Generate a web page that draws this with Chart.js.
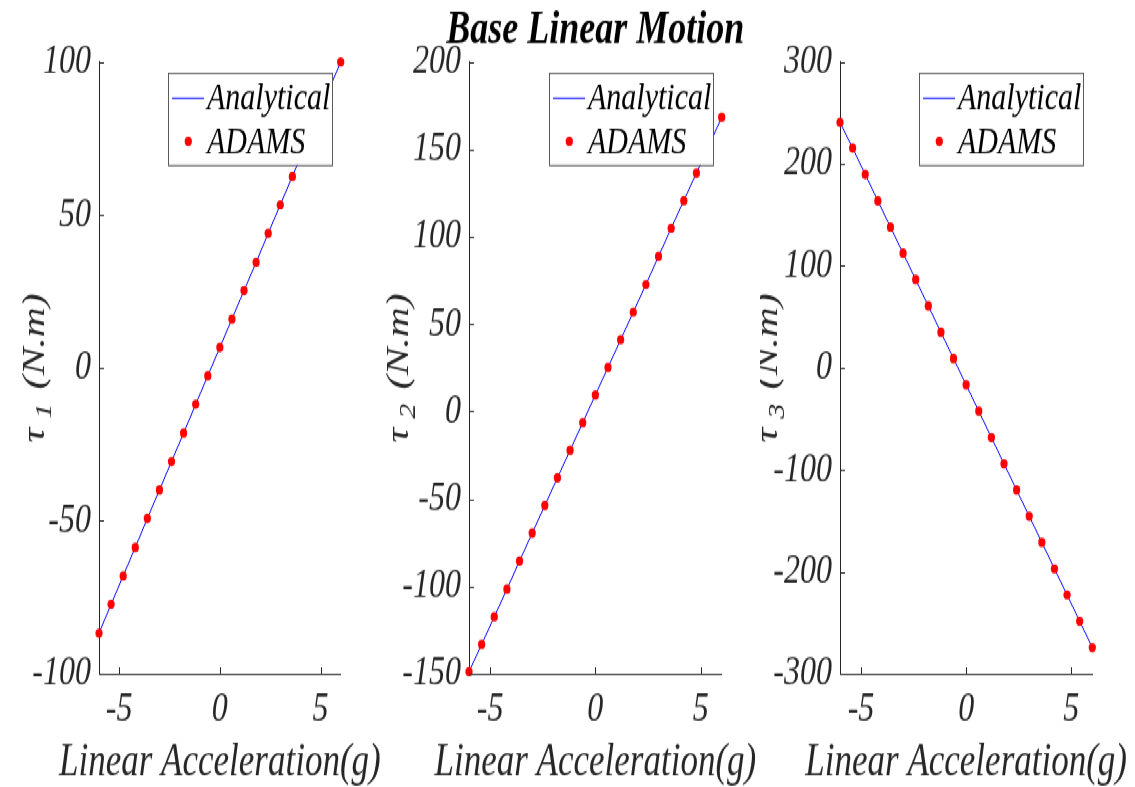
<!DOCTYPE html>
<html>
<head>
<meta charset="utf-8">
<script src="https://cdn.jsdelivr.net/npm/chart.js@4.4.0/dist/chart.umd.min.js"></script>
<style>
  html, body { margin: 0; padding: 0; background: #fff; }
  #page { position: relative; width: 1135px; height: 787px; overflow: hidden; }
  /* the source figure is stretched vertically, so draw flat and stretch */
  #wrap { position: absolute; left: 0; top: 0; width: 1135px; height: 605px; transform: scaleY(1.3008); transform-origin: 0 0; }
  #wrap canvas { position: absolute; top: 0; }
</style>
</head>
<body>
<div id="page">
<div id="wrap">
  <canvas id="tau1Chart" width="380" height="605" style="left:0"></canvas>
  <canvas id="tau2Chart" width="380" height="605" style="left:380px"></canvas>
  <canvas id="tau3Chart" width="375" height="605" style="left:760px"></canvas>
</div>
</div>
<script>
// Data
const accel = [-6, -5.4, -4.8, -4.2, -3.6, -3, -2.4, -1.8, -1.2, -0.6, 0, 0.6, 1.2, 1.8, 2.4, 3, 3.6, 4.2, 4.8, 5.4, 6];
const tau1 = [-86.7, -77.3, -68.0, -58.7, -49.2, -39.9, -30.6, -21.3, -11.9, -2.6, 6.7, 16.0, 25.3, 34.5, 44.0, 53.3, 62.6, 72.0, 81.3, 90.7, 100.0];
const tau2 = [-148.8, -133.2, -117.4, -101.6, -85.5, -69.5, -53.7, -37.9, -22.1, -6.3, 9.5, 25.3, 41.1, 56.9, 72.7, 88.8, 104.9, 120.7, 136.5, 152.3, 168.4];
const tau3 = [240.8, 215.6, 189.8, 163.9, 138.0, 112.5, 86.6, 60.8, 35.0, 9.2, -16.6, -42.4, -68.2, -94.0, -119.7, -145.4, -171.1, -197.0, -222.5, -248.4, -274.2];

const xTicks = [-5, 0, 5];
const tau1Ticks = [-100, -50, 0, 50, 100];
const tau2Ticks = [-150, -100, -50, 0, 50, 100, 150, 200];
const tau3Ticks = [-300, -200, -100, 0, 100, 200, 300];

const seriesLabels = ['Analytical', 'ADAMS'];
const chartTitle = 'Base Linear Motion';
const xTitle = 'Linear Acceleration(g)';

const SERIF = "'Liberation Serif', 'Times New Roman', serif";
const INK = '#262626';

// MATLAB style ticks pointing into the plot
const inwardTicks = {
  id: 'inwardTicks',
  afterDraw(chart) {
    const { ctx, chartArea: a, scales: { x, y } } = chart;
    ctx.save();
    ctx.strokeStyle = INK;
    ctx.lineWidth = 1;
    ctx.beginPath();
    x.ticks.forEach(t => {
      const px = Math.round(x.getPixelForValue(t.value)) + 0.5;
      ctx.moveTo(px, a.bottom);
      ctx.lineTo(px, a.bottom - 5);
    });
    y.ticks.forEach(t => {
      const py = Math.round(y.getPixelForValue(t.value)) + 0.5;
      ctx.moveTo(a.left, py);
      ctx.lineTo(a.left + 5, py);
    });
    ctx.stroke();
    ctx.restore();
  }
};

// Boxed legend in the top right corner, drawn over the data
const boxLegend = {
  id: 'boxLegend',
  afterDatasetsDraw(chart) {
    const { ctx, chartArea: a } = chart;
    const w = 164, h = 70.7;
    const left = Math.round(a.right - 9 - w), top = Math.round(a.top + 8.5);
    const [line, dots] = chart.data.datasets;
    ctx.save();
    ctx.fillStyle = '#fff';
    ctx.fillRect(left, top, w, h);
    ctx.strokeStyle = '#5a5a5a';
    ctx.lineWidth = 1;
    ctx.strokeRect(left + 0.5, top + 0.5, w, h);

    ctx.strokeStyle = line.borderColor;
    ctx.beginPath();
    ctx.moveTo(left + 4, top + 19.4);
    ctx.lineTo(left + 36, top + 19.4);
    ctx.stroke();

    ctx.fillStyle = dots.backgroundColor;
    ctx.beginPath();
    ctx.arc(left + 20.3, top + 52.7, dots.pointRadius, 0, Math.PI * 2);
    ctx.fill();

    ctx.fillStyle = '#000';
    ctx.font = 'italic 30px ' + SERIF;
    ctx.textBaseline = 'alphabetic';
    ctx.fillText(line.label, left + 39, top + 28.4);
    ctx.fillText(dots.label, left + 39, top + 62.2);
    ctx.restore();
  }
};

// Axis titles and panel title, centred on the plot area, never squeezed
const axisTexts = {
  id: 'axisTexts',
  afterDraw(chart, args, opts) {
    const { ctx, chartArea: a } = chart;
    const midX = (a.left + a.right) / 2;
    ctx.save();
    ctx.textBaseline = 'alphabetic';
    ctx.textAlign = 'center';

    if (opts.title) {
      ctx.fillStyle = '#000';
      ctx.font = 'italic bold 36px ' + SERIF;
      ctx.fillText(opts.title, midX, 33);
    }

    ctx.fillStyle = INK;
    ctx.font = 'italic 35px ' + SERIF;
    ctx.fillText(xTitle, midX, 596);

    // rotated y title with a subscript: tau_n (N.m)
    const big = 'italic 32px ' + SERIF;
    const small = 'italic 23px ' + SERIF;
    const rest = ' (N.m)';
    ctx.translate(opts.yTitleX, (a.top + a.bottom) / 2);
    ctx.rotate(-Math.PI / 2);
    ctx.textAlign = 'left';
    ctx.font = big;
    const wTau = ctx.measureText('τ').width;
    const wRest = ctx.measureText(rest).width;
    ctx.font = small;
    const wSub = ctx.measureText(opts.sub).width;
    const gap = 7;
    let cx = -(wTau + gap + wSub + 3 + wRest) / 2;
    ctx.font = big;
    ctx.fillText('τ', cx, 0);
    cx += wTau + gap;
    ctx.font = small;
    ctx.fillText(opts.sub, cx, 7);
    cx += wSub + 3;
    ctx.font = big;
    ctx.fillText(rest, cx, 0);
    ctx.restore();
  }
};

function makePanel(id, values, yTickVals, cfg) {
  const points = accel.map((x, i) => ({ x, y: values[i] }));
  return new Chart(document.getElementById(id), {
    type: 'line',
    data: {
      datasets: [
        {
          label: seriesLabels[0],
          data: points,
          borderColor: '#0000ff',
          borderWidth: 1,
          pointRadius: 0,
          fill: false,
          order: 1,
          clip: false,
        },
        {
          label: seriesLabels[1],
          data: points,
          showLine: false,
          pointRadius: 3.6,
          backgroundColor: '#ff0000',
          borderColor: '#ff0000',
          pointBorderWidth: 0,
          order: 0,
          clip: false,
        },
      ],
    },
    options: {
      responsive: false,
      animation: false,
      layout: { padding: { top: 47.7, right: cfg.right, left: 0, bottom: 0 } },
      plugins: {
        legend: { display: false },
        tooltip: { enabled: false },
        title: { display: false },
        axisTexts: { title: cfg.title, yTitleX: cfg.yTitleX, sub: cfg.sub },
      },
      scales: {
        x: {
          type: 'linear',
          min: -6,
          max: 6,
          grid: { display: false, drawTicks: false },
          border: { display: true, color: INK, width: 1 },
          afterBuildTicks: s => { s.ticks = xTicks.map(v => ({ value: v })); },
          afterFit: s => { s.height = 87; },
          ticks: {
            color: INK,
            padding: 8,
            maxRotation: 0,
            font: { family: SERIF, size: 32, style: 'italic' },
            callback: v => String(v),
          },
        },
        y: {
          type: 'linear',
          min: yTickVals[0],
          max: yTickVals[yTickVals.length - 1],
          grid: { display: false, drawTicks: false },
          border: { display: true, color: INK, width: 1 },
          afterBuildTicks: s => { s.ticks = yTickVals.map(v => ({ value: v })); },
          afterFit: s => { s.width = cfg.yWidth; },
          ticks: {
            color: INK,
            padding: 8,
            font: { family: SERIF, size: 32, style: 'italic' },
            callback: v => String(v),
          },
        },
      },
    },
    plugins: [inwardTicks, boxLegend, axisTexts],
  });
}

makePanel('tau1Chart', tau1, tau1Ticks, { yWidth: 99, right: 39.3, yTitleX: 44, sub: '1' });
makePanel('tau2Chart', tau2, tau2Ticks, { yWidth: 89, right: 38.3, yTitleX: 28, sub: '2', title: chartTitle });
makePanel('tau3Chart', tau3, tau3Ticks, { yWidth: 80, right: 42.7, yTitleX: 17, sub: '3' });
</script>
</body>
</html>
